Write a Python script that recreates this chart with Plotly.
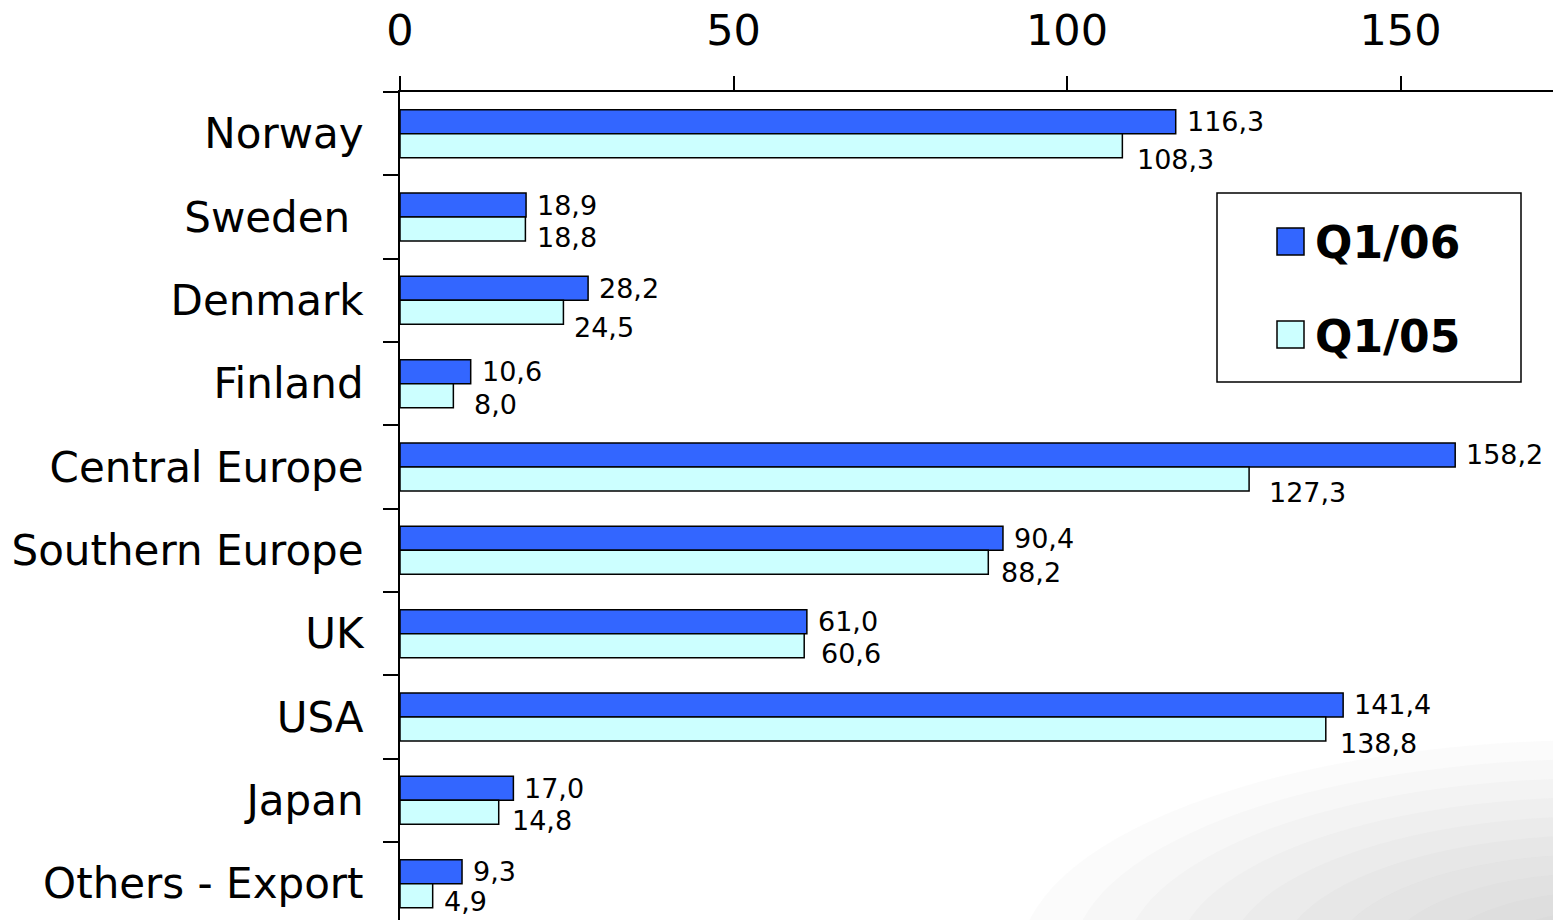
import plotly.graph_objects as go

# ---- data ----
categories = ["Norway", "Sweden ", "Denmark", "Finland", "Central Europe",
              "Southern Europe", "UK", "USA", "Japan", "Others - Export"]
q1_06 = [116.3, 18.9, 28.2, 10.6, 158.2, 90.4, 61.0, 141.4, 17.0, 9.3]
q1_05 = [108.3, 18.8, 24.5, 8.0, 127.3, 88.2, 60.6, 138.8, 14.8, 4.9]
series_names = ["Q1/06", "Q1/05"]
x_ticks = [0, 50, 100, 150]

# label offsets (pixels) for the Q1/05 value labels: (dx, dy-down)
light_label_offsets = [(15, 14), (12, 9), (11, 15), (21, 9), (20, 14),
                       (13, 10), (17, 8), (14, 15), (13, 8), (11, 6)]

DARK = "#3366FF"
LIGHT = "#CCFFFF"
FONT = "DejaVu Sans"

W, H = 1553, 920
L, T = 400, 92
PW, PH = W - L, H - T
PX_PER_UNIT = 6.67
XMAX = PW / PX_PER_UNIT
CAT_PX = 83.33
YMAX = -0.5 + PH / CAT_PX


def px(x):
    return (x - L) / PW


def py(y):
    return (H - y) / PH


cats = [c.replace(" ", "\u00a0") if c.endswith(" ") else c for c in categories]

fig = go.Figure()
fig.add_trace(go.Bar(y=cats, x=q1_06, orientation="h", name=series_names[0],
                     marker=dict(color=DARK, line=dict(color="black", width=1.5)),
                     showlegend=False))
fig.add_trace(go.Bar(y=cats, x=q1_05, orientation="h", name=series_names[1],
                     marker=dict(color=LIGHT, line=dict(color="black", width=1.5)),
                     showlegend=False))

bargap = 0.424
half = (1 - bargap) / 4  # half a bar width in category units


def fmt(v):
    return f"{v:.1f}".replace(".", ",")


annotations = []
for i, v in enumerate(q1_06):
    annotations.append(dict(x=v, y=i - half, xref="x", yref="y", text=fmt(v),
                            showarrow=False, xanchor="left", yanchor="middle",
                            xshift=9, yshift=0,
                            font=dict(family=FONT, size=27, color="black")))
for i, v in enumerate(q1_05):
    dx, dy = light_label_offsets[i]
    annotations.append(dict(x=v, y=i + half, xref="x", yref="y", text=fmt(v),
                            showarrow=False, xanchor="left", yanchor="middle",
                            xshift=dx - 2, yshift=-dy,
                            font=dict(family=FONT, size=27, color="black")))

shapes = []
# soft grey texture in the bottom-right corner (layered for a gradient)
for k in range(10):
    f = 1 - k / 10
    rx, ry = 520 * f + 60, 190 * f + 30
    shapes.append(dict(type="circle", xref="paper", yref="paper",
                       x0=px(1600 - rx), x1=px(1600 + rx),
                       y0=py(960 + ry), y1=py(960 - ry),
                       line=dict(width=0), fillcolor="#a0a0a0", opacity=0.045,
                       layer="below"))

# manual legend
shapes += [
    dict(type="rect", xref="paper", yref="paper",
         x0=px(1217), x1=px(1521), y0=py(382), y1=py(193),
         line=dict(color="black", width=1.5), fillcolor="white", layer="above"),
    dict(type="rect", xref="paper", yref="paper",
         x0=px(1277), x1=px(1304), y0=py(255), y1=py(228),
         line=dict(color="black", width=1.5), fillcolor=DARK, layer="above"),
    dict(type="rect", xref="paper", yref="paper",
         x0=px(1277), x1=px(1304), y0=py(348), y1=py(321),
         line=dict(color="black", width=1.5), fillcolor=LIGHT, layer="above"),
]
for name, yc in zip(series_names, [242, 336]):
    annotations.append(dict(x=px(1313), y=py(yc), xref="paper", yref="paper",
                            text=f"<b>{name}</b>", showarrow=False,
                            xanchor="left", yanchor="middle",
                            font=dict(family=FONT, size=44, color="black")))

fig.update_layout(
    width=W, height=H,
    margin=dict(l=L, r=0, t=T, b=0, pad=0),
    paper_bgcolor="white", plot_bgcolor="rgba(0,0,0,0)",
    barmode="group", bargap=bargap, bargroupgap=0,
    font=dict(family=FONT, color="black"),
    annotations=annotations, shapes=shapes,
    xaxis=dict(side="top", range=[0, XMAX], tickvals=x_ticks,
               ticks="outside", ticklen=14, tickwidth=2, tickcolor="black",
               showline=True, linecolor="black", linewidth=2,
               showgrid=False, zeroline=False,
               tickfont=dict(family=FONT, size=43, color="black"),
               ticklabelstandoff=14),
    yaxis=dict(type="category", categoryorder="array", categoryarray=cats,
               range=[YMAX, -0.5],
               ticks="outside", ticklen=15, tickwidth=2, tickcolor="black",
               tickson="boundaries",
               showline=True, linecolor="black", linewidth=2,
               showgrid=False, zeroline=False,
               tickfont=dict(family=FONT, size=42, color="black"),
               ticklabelstandoff=26),
)

fig.write_html("out.html")
